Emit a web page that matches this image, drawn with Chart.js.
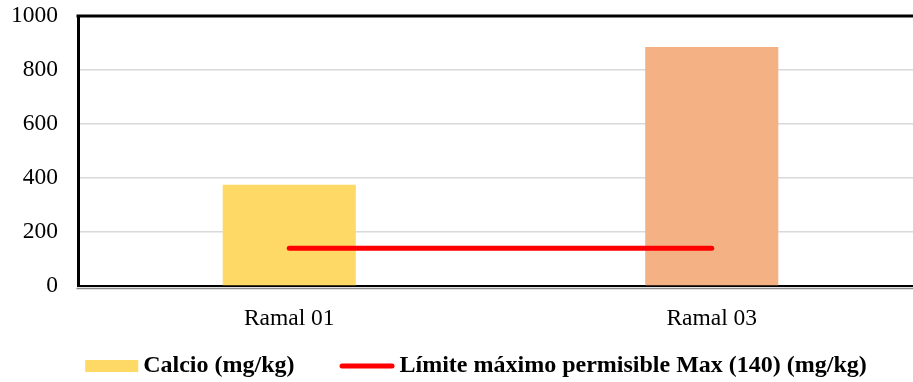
<!DOCTYPE html>
<html>
<head>
<meta charset="utf-8">
<script src="https://cdn.jsdelivr.net/npm/chart.js@4"></script>
<style>
  html, body { margin: 0; padding: 0; background: #fff; overflow: hidden; }
  #wrap { width: 913px; height: 382px; overflow: hidden; position: relative; }
</style>
</head>
<body>
<div id="wrap"><canvas id="c" width="924" height="382"></canvas></div>
<script>
// Calcio por ramal frente al límite máximo permisible
const categories = ['Ramal 01', 'Ramal 03'];
const calcio = [375, 885];
const limite = [140, 140];
const yTicks = [0, 200, 400, 600, 800, 1000];
const seriesNames = ['Calcio (mg/kg)', 'Límite máximo permisible Max (140) (mg/kg)'];
const barColors = ['#FFD966', '#F4B183'];
const lineColor = '#FF0000';

const SERIF = "'Liberation Serif', 'Times New Roman', serif";

// Frame: heavy top rule, double rule under the x axis, and a hand-drawn legend
const framePlugin = {
  id: 'frame',
  afterDatasetsDraw(chart) {
    const { ctx, chartArea: a } = chart;
    ctx.save();
    ctx.strokeStyle = '#000';
    ctx.lineWidth = 3;
    ctx.beginPath();
    ctx.moveTo(a.left - 1.5, a.top);
    ctx.lineTo(a.right, a.top);
    ctx.stroke();
    ctx.strokeStyle = '#8c8c8c';
    ctx.lineWidth = 1.5;
    ctx.beginPath();
    ctx.moveTo(a.left - 1.5, a.bottom + 2.5);
    ctx.lineTo(a.right, a.bottom + 2.5);
    ctx.stroke();
    ctx.restore();
  },
  afterDraw(chart) {
    const ctx = chart.ctx;
    ctx.save();
    ctx.font = 'bold 24px ' + SERIF;
    ctx.textBaseline = 'middle';
    ctx.fillStyle = '#000';
    const w1 = ctx.measureText(seriesNames[0]).width;
    const w2 = ctx.measureText(seriesNames[1]).width;
    const boxW = 53, gap = 5, itemGap = 45, lineW = 55;
    const total = boxW + gap + w1 + itemGap + lineW + gap + w2;
    const cy = 366;
    let x = 476 - total / 2;
    ctx.fillStyle = barColors[0];
    ctx.fillRect(x, cy - 6, boxW, 12);
    x += boxW + gap;
    ctx.fillStyle = '#000';
    ctx.fillText(seriesNames[0], x, cy);
    x += w1 + itemGap;
    ctx.strokeStyle = lineColor;
    ctx.lineWidth = 5;
    ctx.lineCap = 'round';
    ctx.beginPath();
    ctx.moveTo(x + 2.5, cy);
    ctx.lineTo(x + lineW - 2.5, cy);
    ctx.stroke();
    x += lineW + gap;
    ctx.fillText(seriesNames[1], x, cy);
    ctx.restore();
  }
};

new Chart(document.getElementById('c'), {
  data: {
    labels: categories,
    datasets: [
      {
        type: 'line',
        label: seriesNames[1],
        data: limite,
        borderColor: lineColor,
        borderWidth: 5,
        borderCapStyle: 'round',
        pointRadius: 0,
        fill: false,
        order: 0
      },
      {
        type: 'bar',
        label: seriesNames[0],
        data: calcio,
        backgroundColor: barColors,
        borderWidth: 0,
        categoryPercentage: 1,
        barPercentage: 0.315,
        order: 1
      }
    ]
  },
  options: {
    responsive: false,
    devicePixelRatio: 1,
    animation: false,
    layout: { autoPadding: false, padding: { top: 16, right: 1, left: 0, bottom: 50 } },
    plugins: { legend: { display: false }, tooltip: { enabled: false } },
    scales: {
      x: {
        grid: { display: false },
        border: { color: '#000', width: 2 },
        ticks: { color: '#000', font: { family: SERIF, size: 23.5 }, padding: 11 },
        afterFit(scale) {
          scale.height = 46;
          scale.paddingLeft = 0;
          scale.paddingRight = 0;
        }
      },
      y: {
        min: 0,
        max: 1000,
        afterBuildTicks(scale) { scale.ticks = yTicks.map(v => ({ value: v })); },
        grid: {
          drawTicks: false,
          lineWidth: 1.5,
          color: ctx => (ctx.tick && (ctx.tick.value === 0 || ctx.tick.value === 1000)) ? 'rgba(0,0,0,0)' : '#d9d9d9'
        },
        border: { color: '#000', width: 3 },
        ticks: { color: '#000', font: { family: SERIF, size: 23.5 }, padding: 20, callback: v => String(v) },
        afterFit(scale) {
          scale.width = 78;
          scale.paddingTop = 0;
          scale.paddingBottom = 0;
        }
      }
    }
  },
  plugins: [framePlugin]
});
</script>
</body>
</html>
